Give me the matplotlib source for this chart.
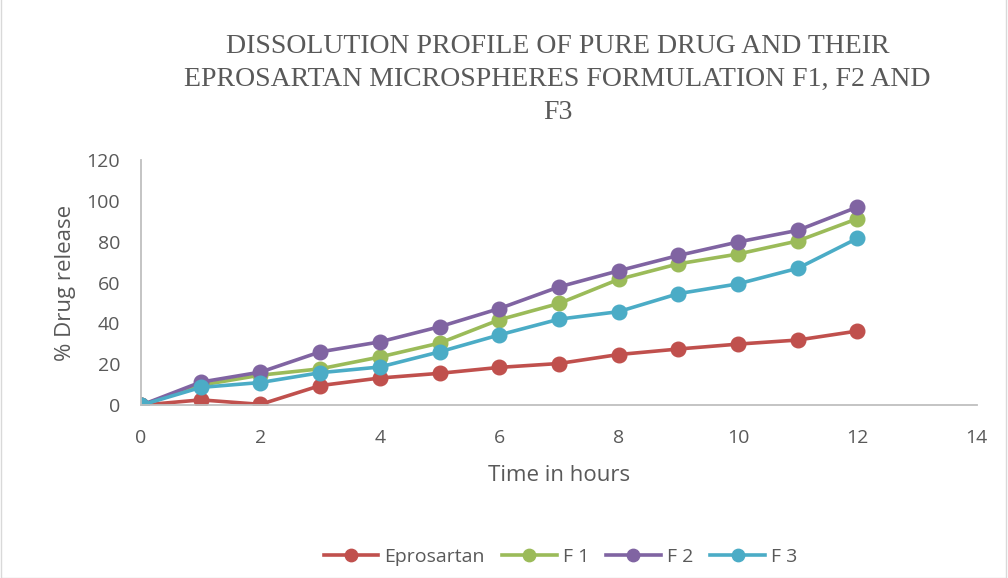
import numpy as np
import matplotlib.pyplot as plt
from matplotlib.patches import Rectangle

# data
hours = [0, 1, 2, 3, 4, 5, 6, 7, 8, 9, 10, 11, 12]
eprosartan = [0, 2.6, 0.4, 9.6, 13.3, 15.6, 18.5, 20.4, 24.8, 27.5, 29.9, 31.9, 36.3]
f1 = [0, 9.8, 14.7, 17.8, 23.6, 30.4, 41.8, 49.8, 61.6, 69.2, 74.0, 80.4, 91.3]
f2 = [0, 11.3, 16.2, 26.1, 31.0, 38.4, 47.3, 57.9, 65.8, 73.3, 79.9, 85.6, 97.0]
f3 = [0, 8.7, 11.1, 15.9, 18.7, 26.1, 34.4, 42.1, 45.8, 54.6, 59.4, 67.0, 81.7]

series = [('Eprosartan', eprosartan, '#C0504D'),
          ('F 1', f1, '#9BBB59'),
          ('F 2', f2, '#8064A2'),
          ('F 3', f3, '#4BACC6')]

txt = '#595959'
fig = plt.figure(figsize=(10.08, 5.78), dpi=100)
ax = fig.add_axes([0.140, 0.299, 0.829, 0.424])

for name, vals, col in series:
    ax.plot(hours, vals, '-o', color=col, label=name, lw=2.6, markersize=10.5)

ax.set_xlim(0, 14)
ax.set_ylim(0, 120)
ax.set_xticks(np.arange(0, 15, 2))
ax.set_yticks(np.arange(0, 121, 20))
ax.tick_params(length=0, labelsize=14, labelcolor=txt)
ax.tick_params(axis='y', pad=15)
ax.tick_params(axis='x', pad=17)
for s in ['top', 'right']:
    ax.spines[s].set_visible(False)
for s in ['left', 'bottom']:
    ax.spines[s].set_color('#BFBFBF')
    ax.spines[s].set_linewidth(1.3)
for t in ax.get_xticklabels() + ax.get_yticklabels():
    t.set_family('Open Sans')

ax.set_xlabel('Time in hours', fontsize=16, color=txt, family='Open Sans', labelpad=13)
ax.set_ylabel('% Drug release', fontsize=16, color=txt, family='Open Sans', labelpad=8)

fig.text(0.553, 0.942, 'DISSOLUTION PROFILE OF PURE DRUG AND THEIR\n'
         'EPROSARTAN MICROSPHERES FORMULATION F1, F2 AND\nF3',
         ha='center', va='top', fontsize=20, color=txt, family='Liberation Serif',
         linespacing=1.43)

ax.legend(loc='center', bbox_to_anchor=(0.556, 0.036), bbox_transform=fig.transFigure,
          ncol=4, frameon=False, handlelength=2.8, columnspacing=0.9,
          handletextpad=0.3, prop={'family': 'Open Sans', 'size': 14}, labelcolor=txt,
          markerscale=0.85)

fig.patches.append(Rectangle((0.001, 0.0), 0.997, 1.2, transform=fig.transFigure,
                             fill=False, edgecolor='#D9D9D9', lw=1))

fig.savefig('out.png', dpi=100)
